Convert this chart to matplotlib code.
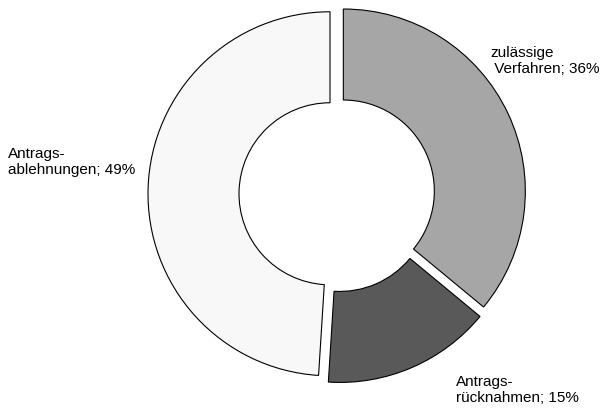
import matplotlib
matplotlib.use("Agg")
import matplotlib.pyplot as plt

# data
shares = [36, 15, 49]
labels = ["zulässige\n Verfahren; 36%", "Antrags-\nrücknahmen; 15%", "Antrags-\nablehnungen; 49%"]
colors = ["#a6a6a6", "#595959", "#f8f8f8"]

plt.rcParams['font.family'] = ['Liberation Sans', 'DejaVu Sans']

fig = plt.figure(figsize=(6.12, 4.12), dpi=100)
ax = fig.add_axes([0, 0, 1, 1])

# work in pixel units, y pointing up (explode is in the same units)
ax.pie(shares, colors=colors, startangle=90, counterclock=False,
       explode=[7] * 3, center=(337, 218), radius=182,
       wedgeprops=dict(width=91, edgecolor="black", linewidth=0.8))

ax.set_xlim(0, 612)
ax.set_ylim(0, 412)
ax.set_aspect("equal")
ax.axis("off")

# label positions (left edge, vertical centre), in pixels from the top
label_pos = [(490, 61), (456, 390), (8, 162)]
for txt, (x, y) in zip(labels, label_pos):
    ax.text(x, 412 - y, txt, ha="left", va="center", fontsize=11,
            linespacing=1.25)

fig.savefig("out.png", dpi=100)
